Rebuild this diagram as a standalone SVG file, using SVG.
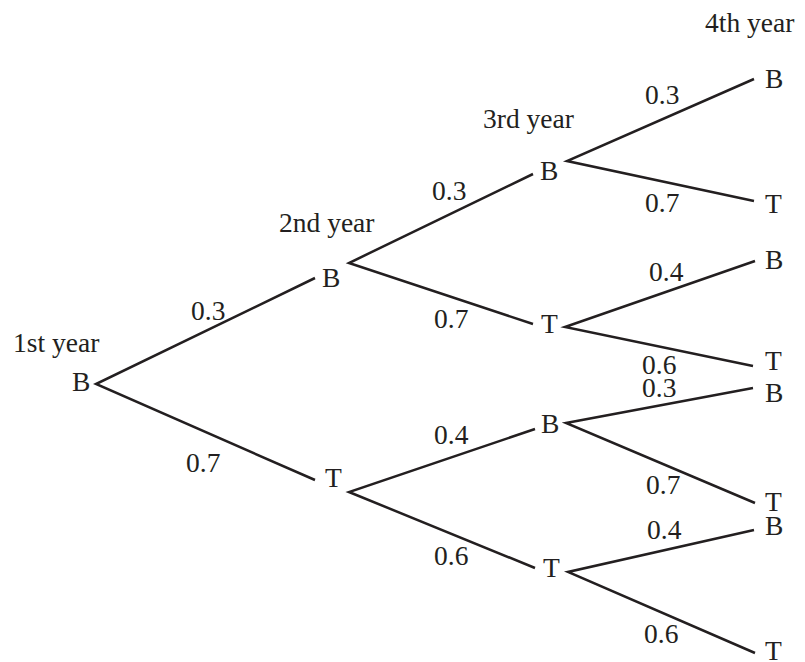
<svg xmlns="http://www.w3.org/2000/svg" width="805" height="662" viewBox="0 0 805 662">
<style>
text{font-family:"Liberation Serif","Times New Roman",serif;font-size:27.5px;fill:#231f20}
.e{stroke:#231f20;stroke-width:2.5;fill:none;stroke-linecap:butt}
</style>
<rect width="805" height="662" fill="#fff"/>
<g id="headers">
<text x="13" y="352">1st year</text>
<text x="279" y="232">2nd year</text>
<text x="483" y="128">3rd year</text>
<text x="705" y="32">4th year</text>
</g>
<g id="connectors">
<path class="e" d="M315,278 L96,384 L315,480"/>
<path class="e" d="M533,174 L349,263 L533,324"/>
<path class="e" d="M535,429 L349,492 L535,568"/>
<path class="e" d="M754,79 L567,161 L754,201"/>
<path class="e" d="M755,261 L565,327 L753,366"/>
<path class="e" d="M753,388 L566,423 L755,503"/>
<path class="e" d="M754,530 L568,572 L755,653"/>
</g>
<g id="n1"><text x="72" y="391">B</text></g>
<g id="n2B"><text x="322" y="287">B</text></g>
<g id="n2T"><text x="325" y="487">T</text></g>
<g id="n3BB"><text x="540" y="180">B</text></g>
<g id="n3BT"><text x="541" y="333">T</text></g>
<g id="n3TB"><text x="541" y="433">B</text></g>
<g id="n3TT"><text x="543" y="577">T</text></g>
<g id="n4a"><text x="765" y="88">B</text></g>
<g id="n4b"><text x="765" y="213">T</text></g>
<g id="n4c"><text x="765" y="269">B</text></g>
<g id="n4d"><text x="765" y="370">T</text></g>
<g id="n4e"><text x="765" y="402">B</text></g>
<g id="n4f"><text x="765" y="511">T</text></g>
<g id="n4g"><text x="765" y="535">B</text></g>
<g id="n4h"><text x="765" y="660">T</text></g>
<g id="labels">
<text x="191" y="320">0.3</text>
<text x="186" y="472">0.7</text>
<text x="432" y="200">0.3</text>
<text x="434" y="328">0.7</text>
<text x="434" y="444">0.4</text>
<text x="434" y="565">0.6</text>
<text x="645" y="104">0.3</text>
<text x="645" y="212">0.7</text>
<text x="649" y="281">0.4</text>
<text x="642" y="374">0.6</text>
<text x="642" y="397">0.3</text>
<text x="646" y="494">0.7</text>
<text x="647" y="539">0.4</text>
<text x="644" y="643">0.6</text>
</g>
</svg>
